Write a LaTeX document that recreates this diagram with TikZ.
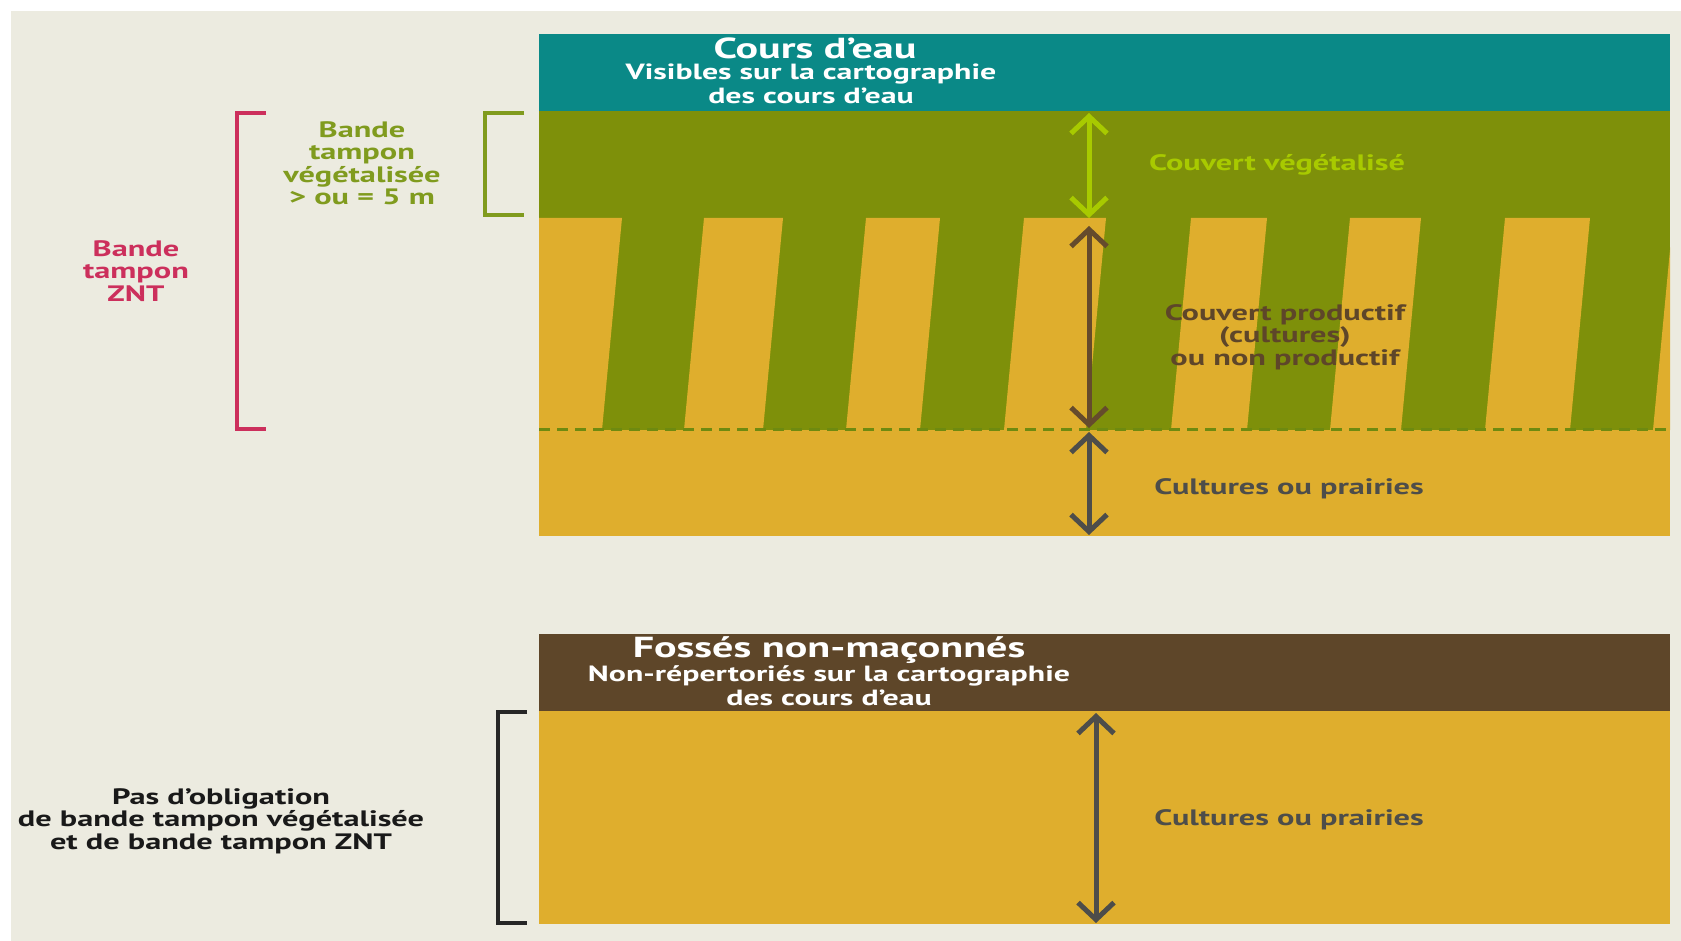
\documentclass[tikz,border=0pt]{standalone}
\usepackage{fontspec}
\setmainfont{PT Sans}[FakeStretch=1.45]
\usetikzlibrary{arrows.meta}
\definecolor{bg}{HTML}{ECEBE0}
\definecolor{teal}{HTML}{0A8987}
\definecolor{olive}{HTML}{7E900A}
\definecolor{crop}{HTML}{DFAE2D}
\definecolor{ditch}{HTML}{5E4629}
\definecolor{lgreen}{HTML}{A8CA00}
\definecolor{brownarr}{HTML}{654B2C}
\definecolor{grayarr}{HTML}{4D4D4A}
\definecolor{pinkc}{HTML}{CC2F5C}
\definecolor{olivetxt}{HTML}{809B1E}
\definecolor{dashc}{HTML}{6E8A10}
\tikzset{
  lbl/.style={font=\bfseries\fontsize{22.3}{22.5}\selectfont, align=center, inner sep=0pt},
  ttl/.style={font=\bfseries\fontsize{29}{24}\selectfont, text=white, inner sep=0pt},
  sub/.style={font=\bfseries\fontsize{22}{24}\selectfont, text=white, align=center, inner sep=0pt},
  brk/.style={line width=4pt},
  dim/.style={line width=5pt, {Straight Barb[length=17pt,width=36pt]}-{Straight Barb[length=17pt,width=36pt]}}
}
\begin{document}
\begin{tikzpicture}[x=1pt,y=-1pt]
\useasboundingbox (0,0) rectangle (1681,941);
\fill[white] (0,0) rectangle (1681,941);
\fill[bg] (11,11) rectangle (1681,941);

% ---- upper panel ----
\fill[teal] (539,34) rectangle (1670,111);
\fill[olive] (539,111) rectangle (1670,430);
\fill[crop] (539,430) rectangle (1670,536);
\begin{scope}
  \clip (539,218) rectangle (1670,430);
  \foreach \a/\b in {519/622, 704/783, 866/940, 1024/1106, 1191/1267, 1350/1421, 1505/1590, 1673/1760}
    \fill[crop] (\a,218) -- (\b,218) -- (\b-20,430) -- (\a-20,430) -- cycle;
\end{scope}
\draw[dashc, line width=3pt, dash pattern=on 11pt off 7pt] (539,429) -- (1670,429);

\node[ttl] (cours) at (815,48) {Cours d’eau};
\node[sub] (vis) at (811,84) {Visibles sur la cartographie\\des cours d’eau};

\coordinate (g1) at (1089,113); \coordinate (g2) at (1089,218);
\coordinate (b1) at (1089,226); \coordinate (b2) at (1089,428);
\coordinate (c1) at (1089,432); \coordinate (c2) at (1089,535);
\draw[dim, lgreen] (g1) -- (g2);
\draw[dim, brownarr] (b1) -- (b2);
\draw[dim, grayarr] (c1) -- (c2);

\node[lbl, text=lgreen] (couv) at (1277,165) {Couvert végétalisé};
\node[lbl, text=ditch] (prod) at (1285,337) {Couvert productif\\(cultures)\\ou non productif};
\node[lbl, text=grayarr] (cult1) at (1289,489) {Cultures ou prairies};

% brackets
\draw[brk, pinkc] (266,113) -- (237,113) -- (237,429) -- (266,429);
\draw[brk, olivetxt] (524,113) -- (485,113) -- (485,215) -- (524,215);
\node[lbl, text=pinkc] (znt) at (136,271) {Bande\\tampon\\ZNT};
\node[lbl, text=olivetxt] (veg) at (362,163) {Bande\\tampon\\végétalisée\\> ou = 5 m};

% ---- lower panel ----
\fill[ditch] (539,634) rectangle (1670,711);
\fill[crop] (539,711) rectangle (1670,924);
\node[ttl] (fosses) at (829,650) {Fossés non-maçonnés};
\node[sub] (nonrep) at (829,686) {Non-répertoriés sur la cartographie\\des cours d’eau};
\coordinate (d1) at (1096,713); \coordinate (d2) at (1096,923);
\draw[dim, grayarr] (d1) -- (d2);
\node[lbl, text=grayarr] (cult2) at (1289,820) {Cultures ou prairies};

\draw[brk, black!85] (527,712) -- (498,712) -- (498,923) -- (527,923);
\node[lbl, text=black!90] (pas) at (221,821) {Pas d’obligation\\de bande tampon végétalisée\\et de bande tampon ZNT};
\end{tikzpicture}
\end{document}
